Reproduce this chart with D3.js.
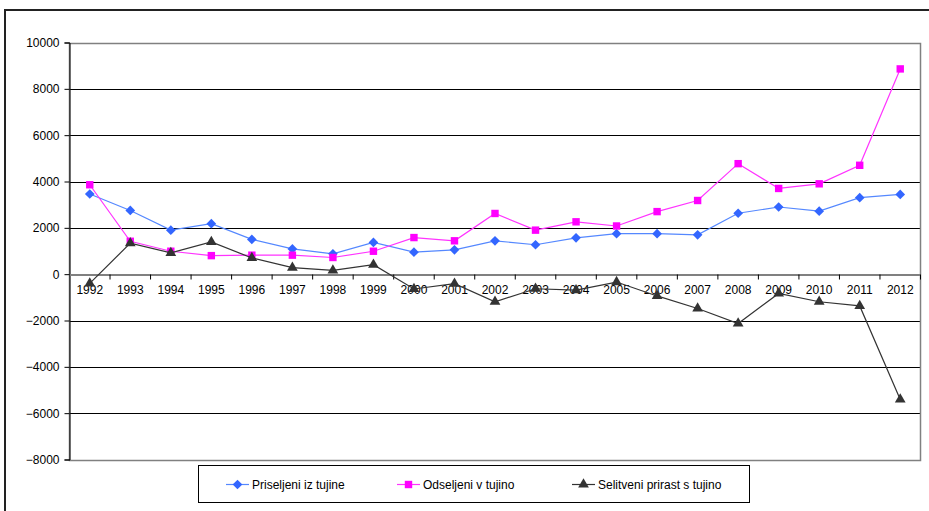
<!DOCTYPE html>
<html><head><meta charset="utf-8">
<script src="https://cdn.jsdelivr.net/npm/d3@7"></script>
<style>body{margin:0;background:#fff}svg{display:block}text{font-family:Arial,"Liberation Sans",sans-serif}</style>
</head><body>
<script>
const years = ["1992","1993","1994","1995","1996","1997","1998","1999","2000","2001","2002","2003","2004","2005","2006","2007","2008","2009","2010","2011","2012"];
const priseljeni = [3460,2750,1900,2180,1500,1090,880,1370,950,1050,1440,1270,1570,1750,1750,1700,2630,2900,2720,3300,3440];
const odseljeni = [3860,1420,990,800,820,820,720,990,1580,1440,2620,1900,2260,2080,2700,3180,4770,3700,3900,4700,8860];
const prirast = [-400,1340,920,1390,700,280,160,410,-640,-410,-1190,-630,-690,-340,-940,-1480,-2130,-830,-1190,-1370,-5410];
const yTicks = [-8000,-6000,-4000,-2000,0,2000,4000,6000,8000,10000];
const seriesNames = ["Priseljeni iz tujine","Odseljeni v tujino","Selitveni prirast s tujino"];

const W=929,H=511;
const svg=d3.select("body").append("svg").attr("width",W).attr("height",H);
svg.append("rect").attr("x",5).attr("y",10).attr("width",940).attr("height",520).attr("fill","#fff").attr("stroke","#222").attr("stroke-width",2);

const L=69.5,R=920.5,T=42.5,B=459.5;
const x=d3.scaleBand().domain(years).range([L,R]);
const y=d3.scaleLinear().domain([-8000,10000]).range([B,T]);

// gridlines
svg.append("g").selectAll("line").data(yTicks.filter(t=>t!==0 && t!==-8000 && t!==10000)).join("line")
  .attr("x1",L).attr("x2",R).attr("y1",d=>Math.round(y(d))+0.5).attr("y2",d=>Math.round(y(d))+0.5)
  .attr("stroke","#000").attr("stroke-width",1);
// plot border
svg.append("rect").attr("x",L).attr("y",Math.round(y(10000))+0.5).attr("width",R-L).attr("height",Math.round(y(-8000))-Math.round(y(10000)))
  .attr("fill","none").attr("stroke","#808080").attr("stroke-width",1.5);

// y axis
const ya=svg.append("g").attr("transform",`translate(${L},0)`).call(d3.axisLeft(y).tickValues(yTicks).tickSize(5).tickPadding(5).tickFormat(d3.format("d")));
ya.select(".domain").attr("stroke","#000");
ya.selectAll(".tick line").attr("stroke","#000");
ya.selectAll("text").attr("font-size",12).attr("fill","#000");

// x axis at zero
const y0=Math.round(y(0))+0.5;
const xa=svg.append("g").attr("transform",`translate(0,${y0})`).call(d3.axisBottom(x).tickSize(0).tickPadding(11));
xa.select(".domain").attr("stroke","#808080").attr("stroke-width",2);
xa.selectAll("text").attr("font-size",12).attr("fill","#000");
svg.append("g").selectAll("line").data(years.slice(1).concat(["end"])).join("line")
  .attr("x1",(d,i)=>L+x.step()*(i+1)).attr("x2",(d,i)=>L+x.step()*(i+1))
  .attr("y1",y0).attr("y2",y0+5).attr("stroke","#000");

const cx=d=>x(d)+x.bandwidth()/2;
const line=d3.line().x((d,i)=>cx(years[i])).y(d=>y(d));
const cols=["#3366ff","#ff00ff","#333333"];
const lineCols=["#5588ff","#ff33ff","#333333"];
const data=[priseljeni,odseljeni,prirast];
const syms=[d3.symbolDiamond2,d3.symbolSquare,d3.symbolTriangle];
const sizes=[60,55,50];
data.forEach((arr,k)=>{
  svg.append("path").datum(arr).attr("d",line).attr("fill","none").attr("stroke",lineCols[k]).attr("stroke-width",1.2);
  svg.append("g").selectAll("path").data(arr).join("path")
    .attr("d",d3.symbol().type(syms[k]).size(sizes[k]))
    .attr("transform",(d,i)=>`translate(${cx(years[i])},${y(d)})`)
    .attr("fill",cols[k]);
});

// legend
const lg=svg.append("g");
lg.append("rect").attr("x",198.5).attr("y",465.5).attr("width",551).attr("height",37).attr("fill","#fff").attr("stroke","#000").attr("stroke-width",1);
const lx=[226,397,572];
const ly=484.5;
seriesNames.forEach((n,k)=>{
  lg.append("line").attr("x1",lx[k]).attr("x2",lx[k]+23).attr("y1",ly).attr("y2",ly).attr("stroke",lineCols[k]).attr("stroke-width",1.2);
  lg.append("path").attr("d",d3.symbol().type(syms[k]).size(sizes[k])()).attr("transform",`translate(${lx[k]+11.5},${ly})`).attr("fill",cols[k]);
  lg.append("text").attr("x",lx[k]+26).attr("y",ly).attr("dy","0.35em").attr("font-size",12).text(n);
});
</script>
</body></html>
